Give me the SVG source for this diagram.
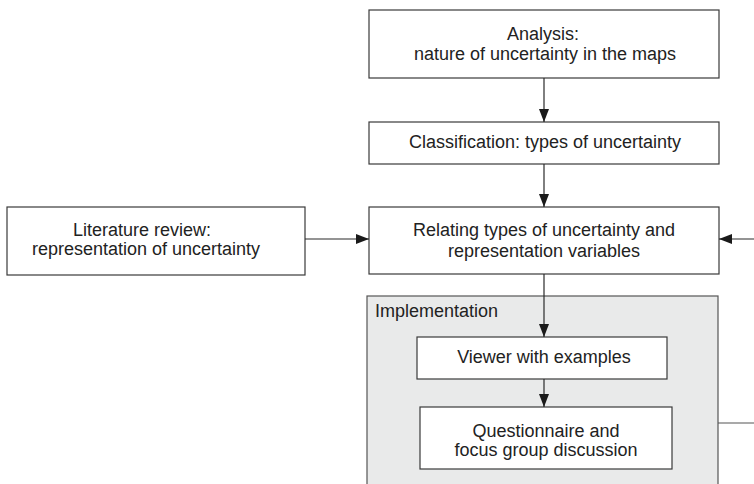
<svg xmlns="http://www.w3.org/2000/svg" width="754" height="484" viewBox="0 0 754 484">
<defs>
<marker id="ah" viewBox="0 0 13 10" refX="13" refY="5" markerWidth="13" markerHeight="10" markerUnits="userSpaceOnUse" orient="auto">
<path d="M0,0 L13,5 L0,10 z" fill="#1a1a1a"/>
</marker>
<style>
.box{fill:#fff;stroke:#3a3a3a;stroke-width:1.2}
.t{font-family:"Liberation Sans",Arial,sans-serif;font-size:18px;fill:#222;text-anchor:middle}
.c{stroke:#2a2a2a;stroke-width:1.2;fill:none}
</style>
</defs>
<rect width="754" height="484" fill="#fff"/>
<g id="implementation">
<rect x="367" y="296" width="351" height="200" fill="#e9eaea" stroke="#555" stroke-width="1.2"/>
<text class="t" x="375" y="317" style="text-anchor:start">Implementation</text>
</g>
<g id="analysis">
<rect class="box" x="369" y="10" width="350" height="68"/>
<text class="t" x="543" y="40">Analysis:</text>
<text class="t" x="545" y="60">nature of uncertainty in the maps</text>
</g>
<g id="classification">
<rect class="box" x="369" y="122" width="350" height="42"/>
<text class="t" x="545" y="148">Classification: types of uncertainty</text>
</g>
<g id="literature">
<rect class="box" x="7" y="207" width="298" height="68"/>
<text class="t" x="142" y="236">Literature review:</text>
<text class="t" x="146" y="255">representation of uncertainty</text>
</g>
<g id="relating">
<rect class="box" x="369" y="207" width="350" height="67"/>
<text class="t" x="544" y="236">Relating types of uncertainty and</text>
<text class="t" x="544" y="257">representation variables</text>
</g>
<g id="viewer">
<rect class="box" x="417" y="337" width="250" height="42"/>
<text class="t" x="544" y="363">Viewer with examples</text>
</g>
<g id="questionnaire">
<rect class="box" x="420" y="407" width="252" height="62"/>
<text class="t" x="546" y="437">Questionnaire and</text>
<text class="t" x="546" y="456">focus group discussion</text>
</g>
<g id="connectors">
<line class="c" x1="544" y1="78" x2="544" y2="122" marker-end="url(#ah)"/>
<line class="c" x1="544" y1="164" x2="544" y2="207" marker-end="url(#ah)"/>
<line class="c" x1="305" y1="239" x2="369" y2="239" marker-end="url(#ah)"/>
<line class="c" x1="754" y1="239" x2="719" y2="239" marker-end="url(#ah)"/>
<line class="c" x1="544" y1="274" x2="544" y2="337" marker-end="url(#ah)"/>
<line class="c" x1="544" y1="379" x2="544" y2="407" marker-end="url(#ah)"/>
<line class="c" x1="718" y1="423" x2="754" y2="423" style="stroke:#555"/>
</g>
</svg>
